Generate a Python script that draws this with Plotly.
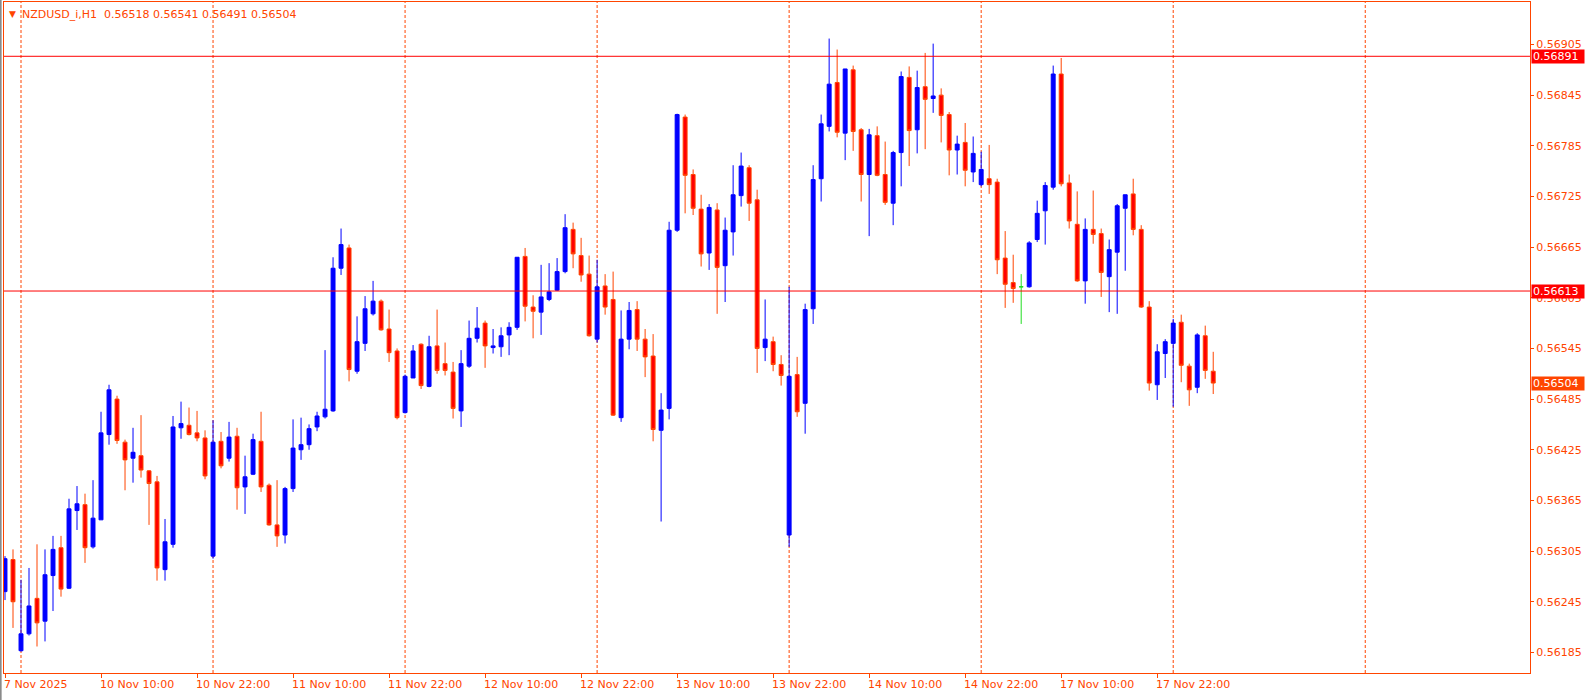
import plotly.graph_objects as go
import pandas as pd

# ---------------- data ----------------
symbol = "NZDUSD_i,H1"
# (day, first hour, number of hourly bars)
sessions = [("2025-11-07", 22, 2), ("2025-11-10", 0, 24), ("2025-11-11", 0, 24),
            ("2025-11-12", 0, 24), ("2025-11-13", 0, 24), ("2025-11-14", 0, 24),
            ("2025-11-17", 0, 24), ("2025-11-18", 0, 6)]

open_ = [
    0.56257, 0.56295, 0.56187, 0.56207, 0.56249, 0.56222, 0.56276, 0.56309, 0.56261, 0.56353,
    0.56360, 0.56310, 0.56342, 0.56443, 0.56485, 0.56434, 0.56415, 0.56418, 0.56400, 0.56387,
    0.56283, 0.56313, 0.56451, 0.56454, 0.56445, 0.56439, 0.56299, 0.56435, 0.56415, 0.56441,
    0.56381, 0.56396, 0.56435, 0.56383, 0.56336, 0.56324, 0.56379, 0.56425, 0.56431, 0.56452,
    0.56464, 0.56471, 0.56640, 0.56664, 0.56518, 0.56551, 0.56586, 0.56601, 0.56568, 0.56542,
    0.56469, 0.56510, 0.56550, 0.56500, 0.56548, 0.56527, 0.56517, 0.56471, 0.56524, 0.56557,
    0.56575, 0.56546, 0.56547, 0.56561, 0.56570, 0.56654, 0.56594, 0.56588, 0.56603, 0.56614,
    0.56636, 0.56686, 0.56655, 0.56633, 0.56556, 0.56619, 0.56603, 0.56463, 0.56556, 0.56591,
    0.56556, 0.56536, 0.56448, 0.56474, 0.56685, 0.56819, 0.56751, 0.56710, 0.56658, 0.56709,
    0.56643, 0.56683, 0.56726, 0.56759, 0.56721, 0.56546, 0.56553, 0.56526, 0.56324, 0.56514,
    0.56480, 0.56592, 0.56746, 0.56808, 0.56860, 0.56800, 0.56875, 0.56804, 0.56751, 0.56797,
    0.56751, 0.56717, 0.56777, 0.56866, 0.56804, 0.56855, 0.56841, 0.56845, 0.56822, 0.56780,
    0.56789, 0.56754, 0.56739, 0.56746, 0.56742, 0.56652, 0.56623, 0.56618, 0.56618, 0.56674,
    0.56708, 0.56736, 0.56870, 0.56741, 0.56692, 0.56625, 0.56686, 0.56681, 0.56630, 0.56659,
    0.56711, 0.56728, 0.56686, 0.56594, 0.56502, 0.56539, 0.56551, 0.56576, 0.56524, 0.56499,
    0.56560, 0.56518]

high = [
    0.56299, 0.56307, 0.56271, 0.56285, 0.56313, 0.56307, 0.56323, 0.56323, 0.56367, 0.56382,
    0.56373, 0.56389, 0.56470, 0.56502, 0.56489, 0.56437, 0.56451, 0.56466, 0.56401, 0.56394,
    0.56343, 0.56465, 0.56482, 0.56475, 0.56471, 0.56448, 0.56460, 0.56446, 0.56458, 0.56451,
    0.56418, 0.56444, 0.56470, 0.56385, 0.56389, 0.56381, 0.56461, 0.56463, 0.56455, 0.56470,
    0.56543, 0.56653, 0.56687, 0.56668, 0.56583, 0.56607, 0.56625, 0.56603, 0.56591, 0.56545,
    0.56514, 0.56549, 0.56551, 0.56560, 0.56591, 0.56552, 0.56529, 0.56543, 0.56578, 0.56594,
    0.56578, 0.56568, 0.56570, 0.56576, 0.56653, 0.56664, 0.56608, 0.56644, 0.56646, 0.56652,
    0.56704, 0.56694, 0.56676, 0.56655, 0.56650, 0.56633, 0.56636, 0.56590, 0.56600, 0.56601,
    0.56568, 0.56562, 0.56492, 0.56695, 0.56823, 0.56822, 0.56757, 0.56727, 0.56716, 0.56717,
    0.56700, 0.56762, 0.56777, 0.56762, 0.56733, 0.56603, 0.56559, 0.56537, 0.56618, 0.56535,
    0.56598, 0.56762, 0.56822, 0.56912, 0.56899, 0.56876, 0.56880, 0.56806, 0.56805, 0.56808,
    0.56790, 0.56779, 0.56873, 0.56879, 0.56874, 0.56895, 0.56906, 0.56853, 0.56825, 0.56797,
    0.56812, 0.56796, 0.56778, 0.56786, 0.56746, 0.56684, 0.56656, 0.56633, 0.56672, 0.56720,
    0.56742, 0.56880, 0.56889, 0.56751, 0.56731, 0.56699, 0.56732, 0.56687, 0.56674, 0.56716,
    0.56727, 0.56746, 0.56691, 0.56601, 0.56550, 0.56556, 0.56580, 0.56585, 0.56527, 0.56563,
    0.56572, 0.56541]

low = [
    0.56247, 0.56214, 0.56186, 0.56205, 0.56192, 0.56198, 0.56234, 0.56251, 0.56260, 0.56330,
    0.56291, 0.56308, 0.56342, 0.56431, 0.56432, 0.56377, 0.56386, 0.56392, 0.56336, 0.56270,
    0.56270, 0.56309, 0.56438, 0.56442, 0.56435, 0.56390, 0.56296, 0.56403, 0.56411, 0.56354,
    0.56349, 0.56395, 0.56375, 0.56335, 0.56310, 0.56314, 0.56375, 0.56413, 0.56425, 0.56447,
    0.56462, 0.56470, 0.56632, 0.56506, 0.56515, 0.56542, 0.56584, 0.56566, 0.56529, 0.56461,
    0.56468, 0.56510, 0.56497, 0.56499, 0.56515, 0.56513, 0.56462, 0.56452, 0.56522, 0.56552,
    0.56522, 0.56539, 0.56535, 0.56537, 0.56567, 0.56577, 0.56557, 0.56561, 0.56601, 0.56613,
    0.56634, 0.56640, 0.56624, 0.56559, 0.56552, 0.56585, 0.56465, 0.56458, 0.56544, 0.56542,
    0.56511, 0.56435, 0.56340, 0.56461, 0.56683, 0.56705, 0.56703, 0.56642, 0.56638, 0.56586,
    0.56600, 0.56655, 0.56713, 0.56696, 0.56516, 0.56530, 0.56518, 0.56501, 0.56310, 0.56464,
    0.56444, 0.56574, 0.56719, 0.56802, 0.56795, 0.56768, 0.56779, 0.56719, 0.56678, 0.56749,
    0.56715, 0.56691, 0.56737, 0.56761, 0.56776, 0.56781, 0.56824, 0.56789, 0.56750, 0.56751,
    0.56737, 0.56742, 0.56737, 0.56728, 0.56633, 0.56593, 0.56599, 0.56574, 0.56617, 0.56671,
    0.56668, 0.56733, 0.56737, 0.56687, 0.56624, 0.56598, 0.56669, 0.56606, 0.56588, 0.56586,
    0.56637, 0.56679, 0.56593, 0.56495, 0.56484, 0.56510, 0.56476, 0.56505, 0.56477, 0.56492,
    0.56509, 0.56491]

close = [
    0.56296, 0.56245, 0.56207, 0.56240, 0.56220, 0.56277, 0.56307, 0.56260, 0.56355, 0.56361,
    0.56309, 0.56344, 0.56445, 0.56496, 0.56436, 0.56413, 0.56422, 0.56401, 0.56385, 0.56285,
    0.56316, 0.56452, 0.56456, 0.56443, 0.56439, 0.56394, 0.56434, 0.56406, 0.56440, 0.56380,
    0.56393, 0.56437, 0.56381, 0.56336, 0.56323, 0.56379, 0.56427, 0.56431, 0.56450, 0.56465,
    0.56473, 0.56640, 0.56668, 0.56520, 0.56553, 0.56592, 0.56601, 0.56567, 0.56540, 0.56463,
    0.56512, 0.56542, 0.56501, 0.56547, 0.56519, 0.56519, 0.56474, 0.56527, 0.56557, 0.56569,
    0.56548, 0.56548, 0.56560, 0.56570, 0.56653, 0.56595, 0.56589, 0.56606, 0.56612, 0.56636,
    0.56688, 0.56657, 0.56632, 0.56560, 0.56618, 0.56594, 0.56466, 0.56556, 0.56590, 0.56556,
    0.56535, 0.56449, 0.56472, 0.56685, 0.56822, 0.56750, 0.56711, 0.56657, 0.56712, 0.56641,
    0.56685, 0.56727, 0.56761, 0.56717, 0.56545, 0.56556, 0.56526, 0.56513, 0.56512, 0.56470,
    0.56591, 0.56745, 0.56811, 0.56858, 0.56801, 0.56876, 0.56802, 0.56751, 0.56798, 0.56750,
    0.56718, 0.56777, 0.56867, 0.56803, 0.56854, 0.56840, 0.56844, 0.56821, 0.56780, 0.56787,
    0.56756, 0.56776, 0.56757, 0.56739, 0.56650, 0.56621, 0.56616, 0.56618, 0.56670, 0.56705,
    0.56738, 0.56870, 0.56740, 0.56696, 0.56625, 0.56686, 0.56680, 0.56635, 0.56662, 0.56714,
    0.56727, 0.56686, 0.56594, 0.56504, 0.56541, 0.56553, 0.56575, 0.56525, 0.56496, 0.56561,
    0.56519, 0.56504]

price_ticks = [0.56185, 0.56245, 0.56305, 0.56365, 0.56425, 0.56485, 0.56545,
               0.56605, 0.56665, 0.56725, 0.56785, 0.56845, 0.56905]
level_lines = [0.56891, 0.56613]

# ---------------- styling ----------------
FONT = "DejaVu Sans"
AXIS_COL = "#FF4500"
BULL = "#0000FF"
BEAR_FILL = "#FF0000"
BEAR_LINE = "#FF4500"
DOJI = "#22DD22"

# ---------------- derived ----------------
times = []
for day, start, count in sessions:
    base = pd.Timestamp(day)
    for h in range(start, start + count):
        times.append(base + pd.Timedelta(hours=h))
idx = list(range(len(times)))

x_range = [-0.125, 190.59]
y_range = [0.561606, 0.569553]

normal = [i for i in idx if open_[i] != close[i]]
doji = [i for i in idx if open_[i] == close[i]]

fig = go.Figure()
fig.add_trace(go.Candlestick(
    x=normal,
    open=[open_[i] for i in normal], high=[high[i] for i in normal],
    low=[low[i] for i in normal], close=[close[i] for i in normal],
    increasing=dict(fillcolor=BULL, line=dict(color=BULL, width=1)),
    decreasing=dict(fillcolor=BEAR_FILL, line=dict(color=BEAR_LINE, width=1)),
    whiskerwidth=0, showlegend=False, hoverinfo="skip"))
if doji:
    fig.add_trace(go.Candlestick(
        x=doji,
        open=[open_[i] for i in doji], high=[high[i] for i in doji],
        low=[low[i] for i in doji], close=[close[i] for i in doji],
        increasing=dict(fillcolor=DOJI, line=dict(color=DOJI, width=1)),
        decreasing=dict(fillcolor=DOJI, line=dict(color=DOJI, width=1)),
        whiskerwidth=0, showlegend=False, hoverinfo="skip"))

shapes = []
# day separators (dashed)
day_starts = [i for i, t in enumerate(times) if t.hour == 0]
nxt = day_starts[-1] + 24
while nxt < x_range[1]:
    day_starts.append(nxt)
    nxt += 24
for d in day_starts:
    shapes.append(dict(type="line", xref="x", yref="paper", x0=d, x1=d, y0=0, y1=1,
                       line=dict(color=AXIS_COL, width=1, dash="3px,2px"), layer="below"))
# horizontal levels
for lvl in level_lines:
    shapes.append(dict(type="line", xref="paper", yref="y", x0=0, x1=1, y0=lvl, y1=lvl,
                       line=dict(color="#FF0000", width=1)))
# window frame on the left
shapes.append(dict(type="line", xref="paper", yref="paper", x0=-0.0022, x1=-0.0022,
                   y0=-0.05, y1=1.01, line=dict(color="#8a8a8a", width=2)))

annotations = []
# time labels every 12 bars, left-aligned at tick
label_idx = idx[::12]
for k, i in enumerate(label_idx):
    t = times[i]
    txt = f"{t.day} {t:%b %Y}" if k == 0 else f"{t.day} {t:%b %H:%M}"
    annotations.append(dict(x=i, xref="x", y=0, yref="paper", xanchor="left", yanchor="top",
                            text=txt, showarrow=False, xshift=-3, yshift=-3,
                            font=dict(family=FONT, size=11, color=AXIS_COL)))
# level labels
for lvl in level_lines:
    annotations.append(dict(x=1, xref="paper", y=lvl, yref="y", xanchor="left", yanchor="middle",
                            text=f"{lvl:.5f}", showarrow=False, bgcolor="#FF0000",
                            width=50, height=11, borderpad=1, align="left", xshift=1,
                            font=dict(family=FONT, size=11, color="white")))
# current price label
annotations.append(dict(x=1, xref="paper", y=close[-1], yref="y", xanchor="left", yanchor="middle",
                        text=f"{close[-1]:.5f}", showarrow=False, bgcolor="#FF4500",
                        width=50, height=11, borderpad=1, align="left", xshift=1,
                        font=dict(family=FONT, size=11, color="white")))
# header
annotations.append(dict(x=0, xref="paper", y=1, yref="paper", xanchor="left", yanchor="top",
                        text="▼", showarrow=False, xshift=3, yshift=-5,
                        font=dict(family=FONT, size=9, color=AXIS_COL)))
annotations.append(dict(x=0, xref="paper", y=1, yref="paper", xanchor="left", yanchor="top",
                        text=f"{symbol}  {open_[-1]:.5f} {high[-1]:.5f} {low[-1]:.5f} {close[-1]:.5f}",
                        showarrow=False, xshift=16, yshift=-4,
                        font=dict(family=FONT, size=11, color=AXIS_COL)))

fig.update_layout(
    width=1586, height=700,
    margin=dict(l=4, r=56, t=2, b=27),
    paper_bgcolor="white", plot_bgcolor="white",
    showlegend=False,
    shapes=shapes, annotations=annotations,
    xaxis=dict(range=x_range, rangeslider=dict(visible=False), showgrid=False, zeroline=False,
               tickvals=label_idx, ticks="outside", ticklen=4, tickcolor=AXIS_COL,
               showticklabels=False, showline=True, linecolor=AXIS_COL, linewidth=1, mirror=True),
    yaxis=dict(range=y_range, side="right", showgrid=False, zeroline=False,
               tickvals=price_ticks, tickformat=".5f", ticks="outside", ticklen=3,
               tickcolor=AXIS_COL, showline=True, linecolor=AXIS_COL, linewidth=1, mirror=True,
               tickfont=dict(family=FONT, size=11, color=AXIS_COL)),
)

fig.write_html("out.html", config={"displayModeBar": False},
               post_script="document.body.style.margin='0';document.body.style.overflow='hidden';")
